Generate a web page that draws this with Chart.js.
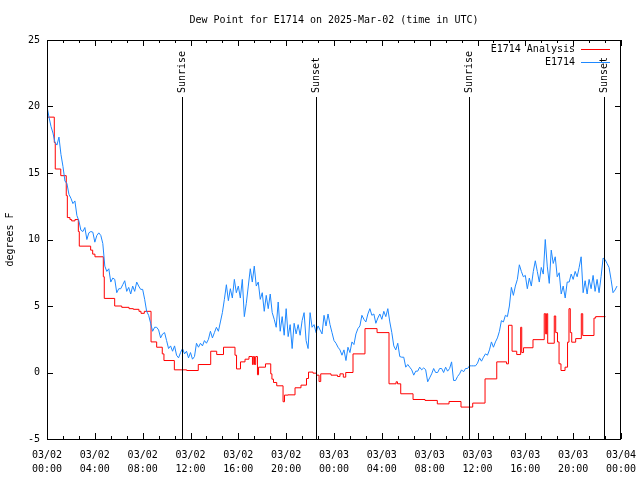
<!DOCTYPE html>
<html><head><meta charset="utf-8">
<script src="https://cdn.jsdelivr.net/npm/chart.js@4"></script>
<style>html,body{margin:0;padding:0;background:#fff}#wrap{width:640px;height:480px}</style>
</head><body><div id="wrap"><canvas id="c" width="640" height="480"></canvas></div>
<script>
const titleText = 'Dew Point for E1714 on 2025-Mar-02 (time in UTC)';
const yAxisTitle = 'degrees F';
const xTickLabels = [
  ['03/02','00:00'],['03/02','04:00'],['03/02','08:00'],['03/02','12:00'],
  ['03/02','16:00'],['03/02','20:00'],['03/03','00:00'],['03/03','04:00'],
  ['03/03','08:00'],['03/03','12:00'],['03/03','16:00'],['03/03','20:00'],['03/04','00:00']
];
const seriesNames = ['E1714 Analysis', 'E1714'];
const eventNames = ['Sunrise', 'Sunset', 'Sunrise', 'Sunset'];
const eventHours = [11.31, 22.52, 35.32, 46.61];

// Analysis (stepped), hours since 03/02 00:00 UTC
const redHours = [0, 0.61, 0.69, 1.15, 1.61, 1.70, 1.92, 2.06, 2.34, 2.62, 2.70, 3.65, 3.82, 4.01, 4.71, 4.79, 5.66, 6.25, 6.86, 7.22, 7.69, 7.86, 8.14, 8.70, 9.17, 9.64, 9.78, 10.65, 11.68, 12.65, 13.69, 14.19, 14.76, 15.72, 15.85, 16.18, 16.56, 16.89, 17.18, 17.25, 17.35, 17.45, 17.60, 17.69, 18.27, 18.71, 18.81, 18.94, 19.21, 19.74, 19.86, 20.15, 20.74, 21.24, 21.70, 21.87, 22.24, 22.54, 22.75, 22.89, 23.75, 24.29, 24.50, 24.78, 24.98, 25.59, 26.59, 27.60, 28.60, 29.19, 29.31, 29.58, 30.61, 31.61, 32.64, 33.62, 34.62, 35.60, 36.63, 37.61, 38.43, 38.59, 38.89, 39.28, 39.61, 39.70, 39.85, 40.64, 41.58, 41.70, 41.78, 41.87, 42.42, 42.54, 42.69, 42.82, 42.98, 43.32, 43.53, 43.65, 43.76, 43.88, 44.21, 44.68, 44.80, 45.74, 45.88, 46.70];
const redValues = [19.2, 17.3, 15.3, 14.8, 13.3, 11.65, 11.5, 11.4, 11.5, 10.6, 9.5, 9.2, 8.9, 8.7, 7.2, 5.57, 5.0, 4.9, 4.8, 4.75, 4.6, 4.45, 4.6, 2.3, 1.9, 1.4, 0.9, 0.2, 0.15, 0.6, 1.6, 1.35, 1.9, 1.3, 0.27, 0.8, 1.0, 1.2, 0.6, 1.2, 0.6, 1.2, -0.17, 0.4, 0.65, -0.1, -0.5, -0.75, -1.0, -2.2, -1.7, -1.68, -1.15, -0.95, -0.45, 0.03, -0.05, -0.2, -0.68, -0.1, -0.2, -0.3, -0.1, -0.35, 0.0, 1.4, 3.3, 3.0, -0.85, -0.7, -0.85, -1.6, -2.03, -2.1, -2.36, -2.18, -2.6, -2.3, -0.48, 0.8, 0.65, 3.55, 1.6, 1.35, 3.4, 1.5, 1.86, 2.47, 4.42, 2.9, 4.42, 2.2, 4.25, 3.0, 2.3, 0.65, 0.15, 0.4, 2.28, 4.8, 3.0, 2.28, 2.55, 4.42, 2.78, 4.09, 4.2, 4.2];

// Observations every 10 minutes from 03/02 00:00 UTC
const blueStartHour = 0;
const blueStepMinutes = 10;
const blueValues = [
  20.0, 19.2, 18.5, 18.0, 17.3, 17.1,
  17.7, 16.4, 15.5, 14.4, 14.2, 13.4,
  13.1, 12.7, 12.9, 11.8, 11.4, 10.7,
  10.6, 10.9, 10.0, 10.5, 10.6, 10.55,
  9.8, 10.3, 10.5, 10.3, 9.7, 8.0,
  7.6, 7.8, 6.8, 7.1, 7.0, 6.0,
  6.3, 6.3, 6.6, 6.9, 6.1, 6.4,
  5.9, 6.5, 6.1, 6.8, 6.5, 6.25,
  6.25, 5.5, 4.6, 4.3, 3.7, 3.1,
  3.4, 3.4, 3.2, 2.6, 2.9, 3.0,
  2.4, 1.8, 2.0, 1.6, 2.0, 1.3,
  1.1, 1.5, 1.8, 1.4, 1.6, 1.1,
  1.5, 1.0, 1.2, 2.2, 1.9, 2.2,
  2.0, 2.4, 2.2, 2.5, 3.1, 2.6,
  3.0, 3.4, 3.1, 3.8, 4.5, 5.5,
  6.6, 5.4, 6.3, 5.6, 7.0, 6.0,
  6.5, 5.6, 7.0, 4.2, 5.2, 6.5,
  7.8, 6.8, 8.0, 6.5, 6.8, 5.5,
  6.0, 4.6, 5.8, 4.8, 5.9, 4.5,
  4.0, 3.4, 5.3, 3.1, 4.2, 2.8,
  4.8, 2.7, 3.6, 1.8, 3.7, 2.9,
  3.6, 2.8, 3.9, 4.5, 2.4, 1.8,
  4.5, 3.4, 3.6, 3.0, 3.5, 3.2,
  2.9, 4.3, 3.5, 4.4, 3.6, 3.0,
  2.4, 2.2, 1.9, 1.7, 1.3, 1.7,
  0.9, 1.9, 1.5, 2.3, 2.1, 2.9,
  3.3, 3.5, 4.3, 4.0, 3.8, 4.4,
  4.8, 4.3, 4.4, 3.7, 4.1, 4.4,
  4.0, 4.6, 4.2, 4.8, 3.8, 3.0,
  2.0, 1.7, 2.2, 1.2, 1.15, 1.15,
  0.4, 0.6, 0.4, 0.2, -0.2, 0.1,
  0.1, 0.4, 0.2, 0.35, 0.2, -0.7,
  -0.4, -0.1, 0.3, 0.0, 0.0, 0.3,
  0.3, 0.0, 0.4, 0.1, 0.3, 0.8,
  -0.6, -0.6, -0.3, -0.1, 0.2, 0.05,
  0.3, 0.3, 0.5, 0.5, 0.5, 0.5,
  0.7, 1.1, 0.85, 1.15, 1.4, 1.3,
  1.7, 2.3, 1.9, 2.3, 2.6, 3.1,
  3.9, 3.8, 4.3, 4.2, 5.0, 6.4,
  5.8, 6.5, 7.0, 8.1, 7.6, 7.2,
  7.3, 6.3, 7.1, 6.5, 7.6, 8.4,
  7.6, 6.8, 7.9, 7.4, 10.0, 8.0,
  6.7, 9.2, 8.2, 8.7, 7.2, 7.5,
  5.9, 6.5, 5.6, 6.8, 6.8, 7.4,
  7.0, 7.6, 7.2, 7.9, 8.7, 6.0,
  6.9, 5.9, 7.0, 6.3, 7.3, 6.1,
  7.0, 6.0, 7.2, 8.6, 8.5, 8.2,
  7.9, 7.0, 6.0, 6.2, 6.5
];

const FONT = '"DejaVu Sans Mono", "Liberation Mono", monospace';
const redData = redHours.map((h, i) => ({x: h, y: redValues[i]}));
const blueData = blueValues.map((v, i) => ({x: blueStartHour + i * blueStepMinutes / 60, y: v}));

const decorPlugin = {
  id: 'decor',
  afterDatasetsDraw(chart) {
    const {ctx, chartArea: a, scales: {x, y}} = chart;
    ctx.save();
    ctx.strokeStyle = '#000';
    ctx.lineWidth = 1;
    // inward ticks
    ctx.beginPath();
    for (let v = -5; v <= 25; v += 5) {
      const py = Math.round(y.getPixelForValue(v)) + 0.5;
      ctx.moveTo(a.left, py); ctx.lineTo(a.left + 6, py);
      ctx.moveTo(a.right, py); ctx.lineTo(a.right - 6, py);
    }
    for (let i = 0; i <= 36; i++) {
      const h = i * 4 / 3;
      const px = Math.round(x.getPixelForValue(h)) + 0.5;
      const len = (i % 3 === 0) ? 6 : 3;
      ctx.moveTo(px, a.bottom); ctx.lineTo(px, a.bottom - len);
      ctx.moveTo(px, a.top); ctx.lineTo(px, a.top + len);
    }
    ctx.stroke();
    // sunrise / sunset markers
    ctx.fillStyle = '#000';
    ctx.font = '10px ' + FONT;
    eventHours.forEach((h, i) => {
      const px = Math.round(x.getPixelForValue(h)) + 0.5;
      ctx.beginPath();
      ctx.moveTo(px, 97); ctx.lineTo(px, a.bottom);
      ctx.stroke();
      ctx.save();
      ctx.translate(px, 93);
      ctx.rotate(-Math.PI / 2);
      ctx.textAlign = 'left';
      ctx.textBaseline = 'middle';
      ctx.fillText(eventNames[i], 0, 0);
      ctx.restore();
    });
    // legend
    ctx.textAlign = 'right';
    ctx.textBaseline = 'middle';
    chart.data.datasets.forEach((ds, i) => {
      const ly = 49 + i * 13;
      ctx.fillStyle = '#000';
      ctx.fillText(ds.label, 575, ly);
      ctx.strokeStyle = ds.borderColor;
      ctx.beginPath();
      ctx.moveTo(581, Math.round(ly) + 0.5); ctx.lineTo(610, Math.round(ly) + 0.5);
      ctx.stroke();
    });
    // frame
    ctx.strokeStyle = '#000';
    ctx.strokeRect(a.left + 0.5, a.top + 0.5, a.right - a.left - 1, a.bottom - a.top);
    ctx.restore();
  }
};

new Chart(document.getElementById('c'), {
  type: 'line',
  data: {
    datasets: [
      {label: seriesNames[0], data: redData, borderColor: '#ff0000', borderWidth: 1, stepped: 'before', pointRadius: 0, order: 1},
      {label: seriesNames[1], data: blueData, borderColor: '#1e88ff', borderWidth: 1, pointRadius: 0, order: 0}
    ]
  },
  options: {
    responsive: false,
    devicePixelRatio: 1,
    animation: false,
    layout: {padding: {left: 0, right: 19, top: 0, bottom: 0}},
    plugins: {
      legend: {display: false},
      tooltip: {enabled: false},
      title: {display: true, fullSize: false, text: titleText, color: '#000',
        font: {family: FONT, size: 10, weight: 'normal'}, padding: {top: 14, bottom: 14}}
    },
    scales: {
      x: {
        type: 'linear', min: 0, max: 48,
        grid: {display: false, drawTicks: false},
        border: {display: false},
        ticks: {stepSize: 4, autoSkip: false, maxRotation: 0, minRotation: 0, padding: 9, color: '#000',
          font: {family: FONT, size: 10, lineHeight: 1.4},
          callback: (v) => xTickLabels[Math.round(v / 4)] || ''},
        afterFit: (s) => { s.height = 41; s.paddingLeft = 0; s.paddingRight = 0; }
      },
      y: {
        min: -5, max: 25,
        grid: {display: false, drawTicks: false},
        border: {display: false},
        ticks: {stepSize: 5, padding: 7, color: '#000', font: {family: FONT, size: 10}},
        title: {display: true, text: yAxisTitle, color: '#000', font: {family: FONT, size: 10}, padding: {top: 4, bottom: 0}},
        afterFit: (s) => { s.width = 47; s.paddingTop = 0; s.paddingBottom = 0; }
      }
    }
  },
  plugins: [decorPlugin]
});
</script></body></html>
